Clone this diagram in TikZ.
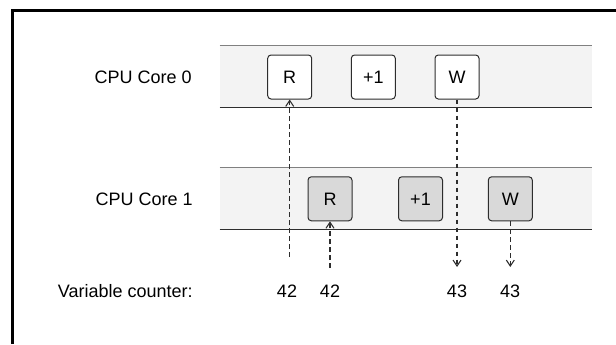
\documentclass[tikz,border=0pt]{standalone}
\usepackage{xcolor}
\usepackage{fontspec}
\setmainfont{Liberation Sans}
\usepackage{tikz}
\usetikzlibrary{arrows.meta, positioning}
\definecolor{mydark}{RGB}{45,45,45}
\definecolor{mygrey}{RGB}{128,128,128}
\definecolor{lanegrey}{RGB}{243,243,243}
\definecolor{boxgrey}{RGB}{217,217,217}
\tikzset{
  lane/.style={rectangle, draw=none, fill=lanegrey,
    minimum width=279pt, minimum height=46.2pt, inner sep=0pt},
  lanetop/.style={line width=1pt, color=mygrey},
  lanebot/.style={line width=1pt, color=mydark},
  opbox/.style={rectangle, draw=mydark, fill=white,
    minimum width=33pt, minimum height=33pt, inner sep=0pt,
    font=\fontsize{13.5}{15}\selectfont, rounded corners=2.5pt, line width=0.75pt},
  opboxgrey/.style={opbox, fill=boxgrey},
  lbl/.style={inner sep=0pt, font=\fontsize{13.5}{15}\selectfont},
  flow/.style={-{Straight Barb[length=4.5pt, width=6pt]}, dash pattern=on 3.5pt off 2.5pt,
    line width=0.8pt, color=mydark}
}
\begin{document}
\begin{tikzpicture}[x=0.75pt, y=-0.75pt]
  \useasboundingbox (0,0) rectangle (616,344);
  % Frame
  \draw[line width=2.2pt] (12.5,344) -- (12.5,10.5) -- (616,10.5);

  % Lanes
  \node[lane] (lane0) at (406,76.5) {};
  \node[lane] (lane1) at (406,198.4) {};
  \draw[lanetop] (lane0.north west) -- (lane0.north east);
  \draw[lanebot] (lane0.south west) -- (lane0.south east);
  \draw[lanetop] (lane1.north west) -- (lane1.north east);
  \draw[lanebot] (lane1.south west) -- (lane1.south east);

  % Labels
  \node[lbl, anchor=east] (core0) at (192,77) {CPU Core 0};
  \node[lbl, anchor=east] (core1) at (193,199) {CPU Core 1};
  \node[lbl, anchor=east] (var) at (193,291) {Variable counter:};

  % Operations
  \node[opbox] (r0) at (289.7,77) {R};
  \node[opbox] (inc0) at (373.3,77) {+1};
  \node[opbox] (w0) at (457,77) {W};
  \node[opboxgrey] (r1) at (330,198.8) {R};
  \node[opboxgrey] (inc1) at (420.5,198.8) {+1};
  \node[opboxgrey] (w1) at (510.3,198.8) {W};

  % Values
  \node[lbl] (v0) at (287,291) {42};
  \node[lbl] (v1) at (330,291) {42};
  \node[lbl] (v2) at (457,291) {43};
  \node[lbl] (v3) at (510,291) {43};

  % Reads and writes
  \coordinate (s0) at (289.7,257);
  \coordinate (s1) at (330,268);
  \coordinate (e0) at (457,267);
  \coordinate (e1) at (510.3,267);
  \draw[flow] (s0) -- (r0.south);
  \draw[flow] (s1) -- (r1.south);
  \draw[flow] (w0.south) -- (e0);
  \draw[flow] (w1.south) -- (e1);
\end{tikzpicture}
\end{document}
